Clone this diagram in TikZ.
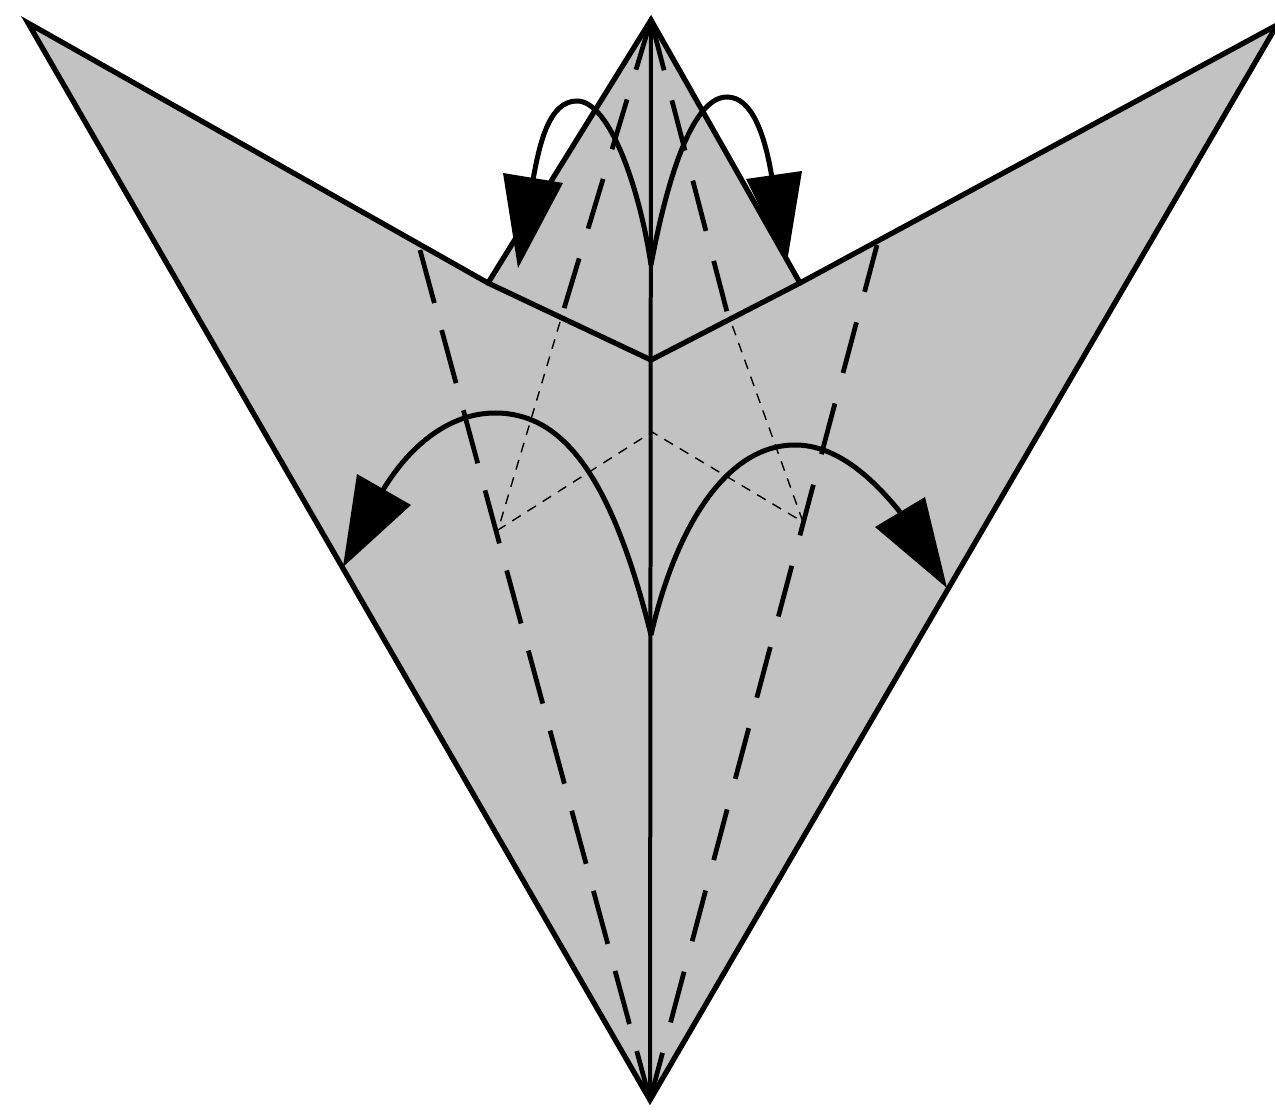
\documentclass[tikz,border=0pt]{standalone}
\definecolor{paper}{RGB}{194,194,194}
\tikzset{
  edgeline/.style={line width=0.105cm,line join=miter,miter limit=6},
  centreline/.style={line width=0.08cm},
  longdashL/.style={line width=0.095cm,dash pattern=on 1.1cm off 0.56cm},
  longdashR/.style={line width=0.095cm,dash pattern=on 1.05cm off 0.63cm,dash phase=0.08cm},
  shortdash/.style={line width=0.095cm,dash pattern=on 1.04cm off 0.62cm},
  thindash/.style={line width=0.028cm,dash pattern=on 0.2cm off 0.16cm},
  foldarc/.style={line width=0.1cm},
  head/.style={fill=black,draw=none}
}
\begin{document}
\begin{tikzpicture}[x=0.02cm,y=-0.02cm]
\path[use as bounding box,fill=white] (0,0) rectangle (1275,1118);
\coordinate (tl) at (28,23);
\coordinate (tr) at (1277,25);
\coordinate (bot) at (650,1100);
\coordinate (apex) at (651,20);
\coordinate (nl) at (488,283);
\coordinate (nr) at (800,283);
\coordinate (mid) at (651,360);
\coordinate (vl) at (498,530);
\coordinate (vr) at (803,522);
\coordinate (vm) at (652,432);
% paper
\fill[paper] (tl) -- (nl) -- (apex) -- (nr) -- (tr) -- (bot) -- cycle;
\fill[paper] (nl) -- (mid) -- (nr) -- cycle;
% thin hidden lines
\draw[thindash] (560,322) -- (vl) -- (vm) -- (vr) -- (731,322);
% dashed valley folds
\draw[longdashL] (420,250) -- (bot);
\draw[longdashR] (877,245) -- (bot);
\draw[shortdash] (apex) -- (563,312);
\draw[shortdash] (apex) -- (727,312);
% centre line
\draw[centreline] (apex) -- (bot);
% outline
\draw[edgeline] (nl) -- (apex) -- (nr);
\draw[edgeline] (tl) -- (nl) -- (mid) -- (nr) -- (tr) -- (bot) -- cycle;
% arcs
\draw[foldarc] (651,635) .. controls (610,470) and (560,413) .. (495,413)
   .. controls (450,413) and (410,445) .. (383,490);
\draw[foldarc] (651,635) .. controls (675,530) and (725,445) .. (795,445)
   .. controls (835,445) and (870,475) .. (900,512);
\draw[foldarc] (651,265) .. controls (640,190) and (610,101) .. (577,101)
   .. controls (550,101) and (540,140) .. (533,180);
\draw[foldarc] (651,265) .. controls (665,190) and (690,97) .. (727,97)
   .. controls (752,97) and (765,135) .. (772,178);
% arrow heads
\fill[head] (357,474) -- (411,505) -- (343,567) -- cycle;
\fill[head] (925,497) -- (875,527) -- (947,588) -- cycle;
\fill[head] (503,173) -- (563,183) -- (518,268) -- cycle;
\fill[head] (746,179) -- (802,171) -- (787,262) -- cycle;
\end{tikzpicture}
\end{document}
